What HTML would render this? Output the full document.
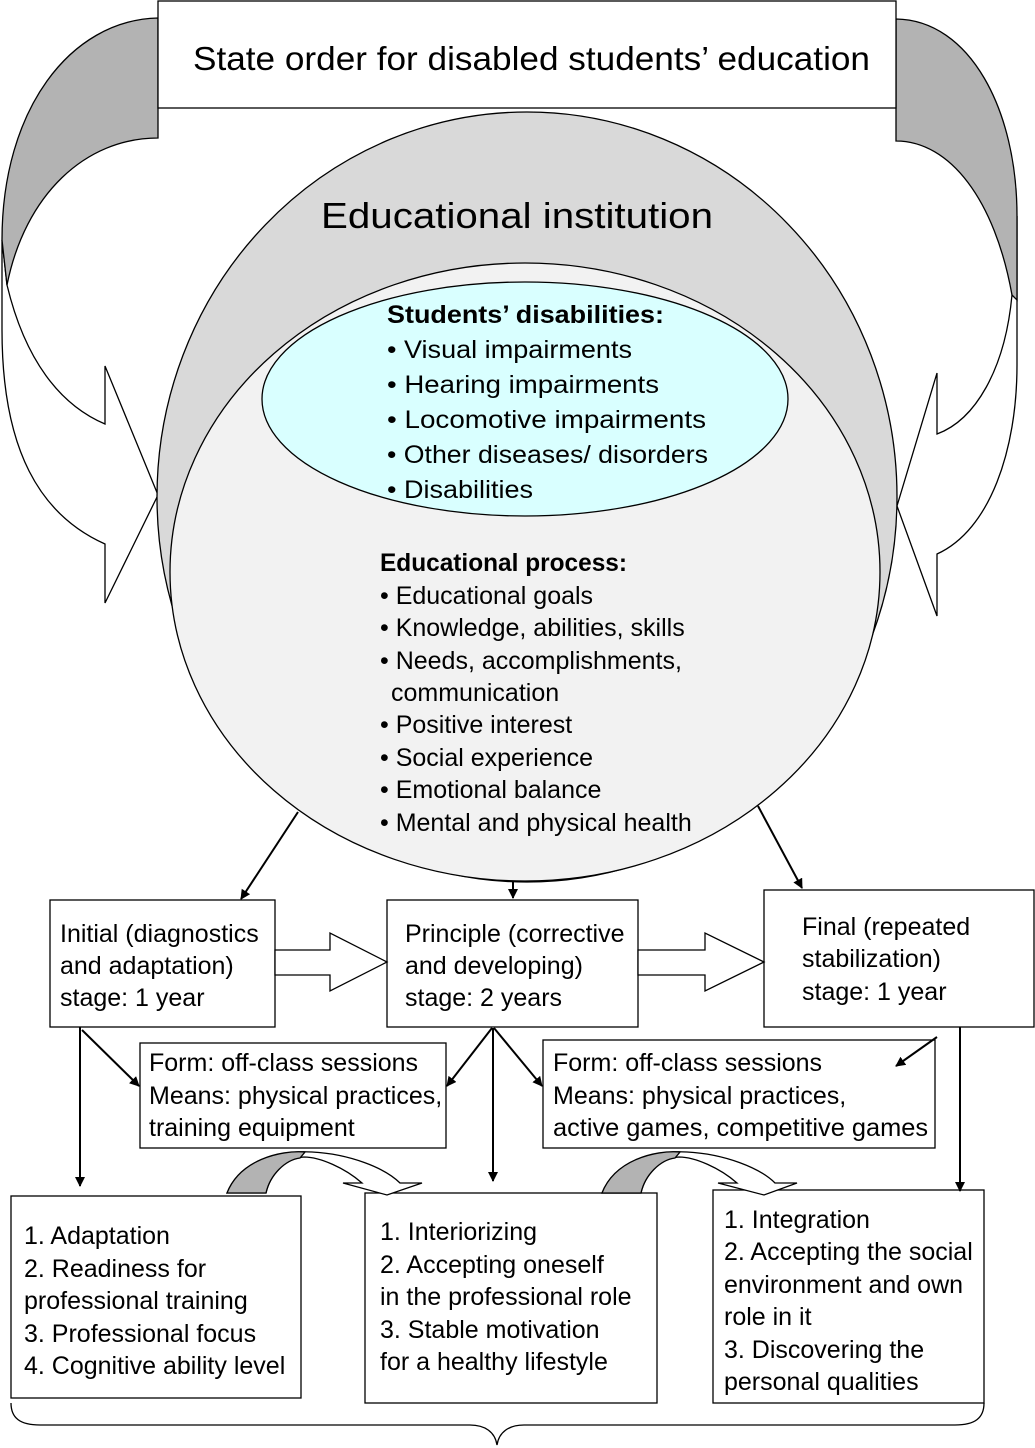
<!DOCTYPE html>
<html><head><meta charset="utf-8"><style>
html,body{margin:0;padding:0;background:#fff}
svg{display:block}
text{font-family:"Liberation Sans",sans-serif;fill:#000}
</style></head><body>
<svg width="1035" height="1448" viewBox="0 0 1035 1448" xmlns="http://www.w3.org/2000/svg">
<defs>
<marker id="ah" markerWidth="10" markerHeight="10" refX="9" refY="5" orient="auto" markerUnits="userSpaceOnUse" viewBox="0 0 10 10">
<path d="M0,0 L10,5 L0,10 Z" fill="#000"/></marker>
</defs>
<g stroke="#000" stroke-width="1.3">
<path d="M7,285 C25,360 60,405 105,424 L105,366 L158,495 L105,603 L105,544 C40,515 2,450 2,330 L2,240 Z" fill="#fff"/>
<path d="M158,18 C70,20 2,110 2,240 L7,285 C25,195 85,138 158,138 Z" fill="#b3b3b3"/>
<path d="M1012,295 C1005,370 975,420 937,434 L937,373 L897,506 L937,616 L937,554 C990,530 1017,450 1017,365 L1017,216 Z" fill="#fff"/>
<path d="M896,19 C970,20 1017,110 1017,216 L1017,300 L1012,295 C995,200 950,141 896,141 Z" fill="#b3b3b3"/>
<ellipse cx="527" cy="497" rx="370" ry="385" fill="#d9d9d9"/>
<ellipse cx="525" cy="572" rx="355" ry="309" fill="#f2f2f2"/>
<ellipse cx="525" cy="399" rx="263" ry="117" fill="#d9ffff"/>
<rect x="158" y="1" width="738" height="107" fill="#fff"/>
</g>
<text x="193" y="70" font-size="33" textLength="677" lengthAdjust="spacingAndGlyphs">State order for disabled students’ education</text>
<text x="321" y="228" font-size="36" textLength="392" lengthAdjust="spacingAndGlyphs">Educational institution</text>
<g font-size="25">
<text x="387" y="323" font-weight="bold" textLength="277" lengthAdjust="spacingAndGlyphs">Students’ disabilities:</text>
<text x="387" y="358" textLength="245" lengthAdjust="spacingAndGlyphs">• Visual impairments</text>
<text x="387" y="393" textLength="272" lengthAdjust="spacingAndGlyphs">• Hearing impairments</text>
<text x="387" y="428" textLength="319" lengthAdjust="spacingAndGlyphs">• Locomotive impairments</text>
<text x="387" y="463" textLength="321" lengthAdjust="spacingAndGlyphs">• Other diseases/ disorders</text>
<text x="387" y="498" textLength="146" lengthAdjust="spacingAndGlyphs">• Disabilities</text>
<text x="380" y="571" font-weight="bold" textLength="247" lengthAdjust="spacingAndGlyphs">Educational process:</text>
<text x="380" y="604">• Educational goals</text>
<text x="380" y="636">• Knowledge, abilities, skills</text>
<text x="380" y="669">• Needs, accomplishments,</text>
<text x="391" y="701">communication</text>
<text x="380" y="733">• Positive interest</text>
<text x="380" y="766">• Social experience</text>
<text x="380" y="798">• Emotional balance</text>
<text x="380" y="831">• Mental and physical health</text>
</g>
<g stroke="#000" stroke-width="1.3" fill="#fff">
<rect x="50" y="900" width="225" height="127"/>
<rect x="387" y="900" width="251" height="127"/>
<rect x="764" y="890" width="270" height="137"/>
<path d="M275,950 L330,950 L330,933 L387,962 L330,991 L330,975 L275,975 Z"/>
<path d="M638,950 L705,950 L705,933 L764,962 L705,991 L705,975 L638,975 Z"/>
<rect x="140" y="1043" width="306" height="105"/>
<rect x="543" y="1040" width="392" height="108"/>
<rect x="11" y="1196" width="290" height="202"/>
<rect x="365" y="1193" width="292" height="210"/>
<rect x="713" y="1190" width="271" height="213"/>
<path d="M227,1193 C240,1160 280,1150 312,1152 C350,1154 385,1168 400,1183 L422,1183 L387,1195 L343,1183 L362,1183 C345,1168 320,1157 304,1157 C285,1158 270,1175 266,1193 Z"/>
<path d="M227,1193 C240,1160 280,1150 305,1152 L300,1158 C285,1160 270,1175 266,1193 Z" fill="#b3b3b3"/>
<path d="M602,1193 C615,1160 655,1150 687,1152 C725,1154 760,1168 775,1183 L797,1183 L764,1195 L718,1183 L737,1183 C720,1168 695,1157 679,1157 C660,1158 645,1175 641,1193 Z"/>
<path d="M602,1193 C615,1160 655,1150 680,1152 L675,1158 C660,1160 645,1175 641,1193 Z" fill="#b3b3b3"/>
<path d="M11,1403 C11,1418 20,1425 40,1425 L470,1425 C485,1425 495,1432 497,1445 C499,1432 509,1425 524,1425 L955,1425 C975,1425 984,1418 984,1403" fill="none"/>
</g>
<g stroke="#000" stroke-width="2" fill="none">
<line x1="298" y1="812" x2="241" y2="899" marker-end="url(#ah)"/>
<line x1="513" y1="882" x2="513" y2="898" marker-end="url(#ah)"/>
<line x1="758" y1="806" x2="802" y2="888" marker-end="url(#ah)"/>
<line x1="80" y1="1027" x2="80" y2="1186" marker-end="url(#ah)"/>
<line x1="82" y1="1030" x2="139" y2="1086" marker-end="url(#ah)"/>
<line x1="492" y1="1028" x2="447" y2="1086" marker-end="url(#ah)"/>
<line x1="493" y1="1028" x2="493" y2="1181" marker-end="url(#ah)"/>
<line x1="494" y1="1028" x2="542" y2="1086" marker-end="url(#ah)"/>
<line x1="937" y1="1037" x2="896" y2="1066" marker-end="url(#ah)"/>
<line x1="960" y1="1027" x2="960" y2="1191" marker-end="url(#ah)"/>
</g>
<g font-size="25">
<text x="60" y="942">Initial (diagnostics</text>
<text x="60" y="974">and adaptation)</text>
<text x="60" y="1006">stage: 1 year</text>
<text x="405" y="942">Principle (corrective</text>
<text x="405" y="974">and developing)</text>
<text x="405" y="1006">stage: 2 years</text>
<text x="802" y="935">Final (repeated</text>
<text x="802" y="967">stabilization)</text>
<text x="802" y="1000">stage: 1 year</text>
<text x="149" y="1071">Form: off-class sessions</text>
<text x="149" y="1104">Means: physical practices,</text>
<text x="149" y="1136">training equipment</text>
<text x="553" y="1071">Form: off-class sessions</text>
<text x="553" y="1104">Means: physical practices,</text>
<text x="553" y="1136" textLength="375" lengthAdjust="spacingAndGlyphs">active games, competitive games</text>
<text x="24" y="1244">1. Adaptation</text>
<text x="24" y="1277">2. Readiness for</text>
<text x="24" y="1309">professional training</text>
<text x="24" y="1342">3. Professional focus</text>
<text x="24" y="1374">4. Cognitive ability level</text>
<text x="380" y="1240">1. Interiorizing</text>
<text x="380" y="1273">2. Accepting oneself</text>
<text x="380" y="1305">in the professional role</text>
<text x="380" y="1338">3. Stable motivation</text>
<text x="380" y="1370">for a healthy lifestyle</text>
<text x="724" y="1228">1. Integration</text>
<text x="724" y="1260">2. Accepting the social</text>
<text x="724" y="1293">environment and own</text>
<text x="724" y="1325">role in it</text>
<text x="724" y="1358">3. Discovering the</text>
<text x="724" y="1390">personal qualities</text>
</g>
</svg>
</body></html>
